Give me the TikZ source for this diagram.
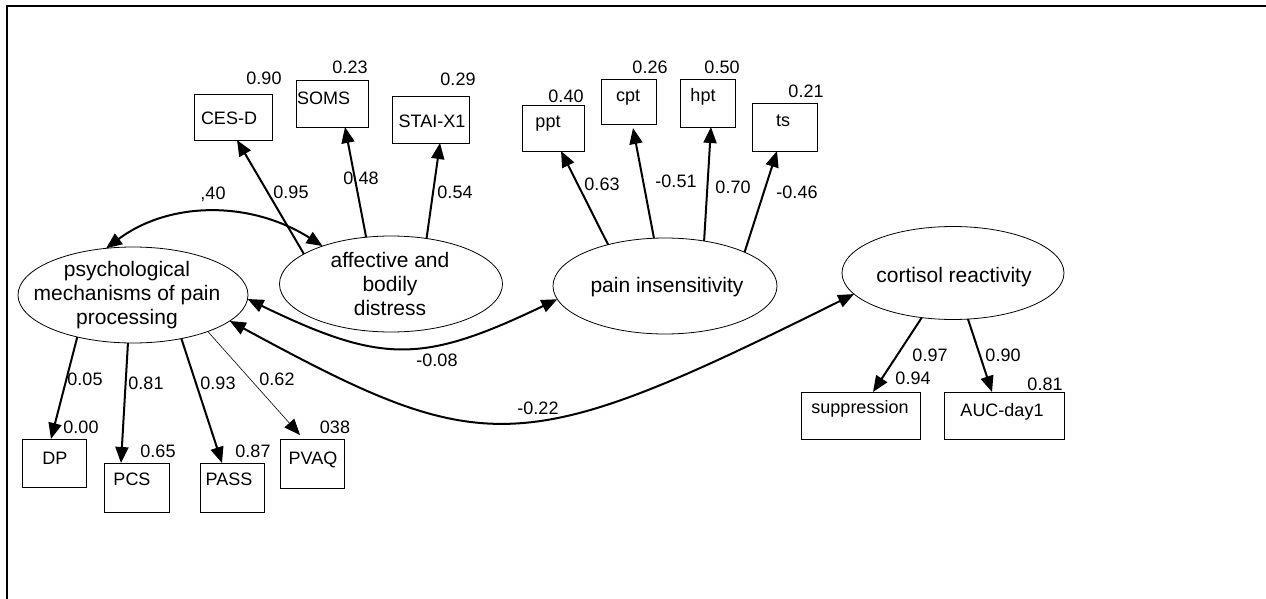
\documentclass[tikz,border=0pt]{standalone}
\usepackage{fontspec}
\setmainfont{Liberation Sans}
\usetikzlibrary{arrows.meta,shapes.geometric}
\begin{document}
\begin{tikzpicture}[x=1pt,y=-1pt,
  lat/.style={ellipse,draw,line width=0.8pt,inner sep=0pt,outer sep=0pt},
  ltxt/.style={inner sep=0pt,align=center,font=\fontsize{21}{24}\selectfont},
  obs/.style={rectangle,draw,line width=0.9pt,inner sep=0pt,outer sep=0pt},
  lbl/.style={inner sep=0pt,font=\fontsize{18}{21}\selectfont,text height=13pt,text depth=0pt},
  tipA/.tip={Triangle[length=16pt,width=13pt]},
  load/.style={line width=2pt,-tipA},
  thinload/.style={line width=0.6pt,-tipA},
  cov/.style={line width=2pt,tipA-tipA}]
\useasboundingbox (0,0) rectangle (1266,599);
\fill[white] (0,0) rectangle (1266,599);
% frame
\draw[line width=2pt] (6.5,599) -- (6.5,6) -- (1266,6);

% latent variables
\node[lat,minimum width=230pt,minimum height=96pt] (psy) at (133,295) {};
\node[ltxt] (psy-t) at (127,295) {psychological\\mechanisms of pain\\processing};
\node[lat,minimum width=223pt,minimum height=96pt] (aff) at (391,284) {};
\node[ltxt] (aff-t) at (390,284) {affective and\\bodily\\distress};
\node[lat,minimum width=224pt,minimum height=96pt] (pain) at (665,286) {};
\node[ltxt,anchor=base] (pain-t) at (667,292) {pain insensitivity};
\node[lat,minimum width=222pt,minimum height=93pt] (cort) at (953,273) {};
\node[ltxt,anchor=base] (cort-t) at (954,282) {cortisol reactivity};

% observed variables
\node[obs,minimum width=78pt,minimum height=46pt] (cesd) at (233,117) {};
\node[lbl] (cesd-t) at (229,118) {CES-D};
\node[obs,minimum width=72pt,minimum height=47pt] (soms) at (332,103.5) {};
\node[lbl] (soms-t) at (323.5,98) {SOMS};
\node[obs,minimum width=77pt,minimum height=47pt] (stai) at (430.5,119.5) {};
\node[lbl] (stai-t) at (432,121) {STAI-X1};
\node[obs,minimum width=62pt,minimum height=46pt] (ppt) at (553,128) {};
\node[lbl] (ppt-t) at (548,121) {ppt};
\node[obs,minimum width=55pt,minimum height=45pt] (cpt) at (628.5,101.5) {};
\node[lbl] (cpt-t) at (628,95.5) {cpt};
\node[obs,minimum width=55pt,minimum height=48pt] (hpt) at (707.5,103) {};
\node[lbl] (hpt-t) at (703,95.5) {hpt};
\node[obs,minimum width=65pt,minimum height=48pt] (ts) at (784.5,127) {};
\node[lbl] (ts-t) at (783,120.5) {ts};
\node[obs,minimum width=64pt,minimum height=48pt] (dp) at (54,463) {};
\node[lbl] (dp-t) at (55,458) {DP};
\node[obs,minimum width=65pt,minimum height=49pt] (pcs) at (136.5,487.5) {};
\node[lbl] (pcs-t) at (132,479) {PCS};
\node[obs,minimum width=64pt,minimum height=49pt] (pass) at (232,487.5) {};
\node[lbl] (pass-t) at (229,479) {PASS};
\node[obs,minimum width=64pt,minimum height=49pt] (pvaq) at (312,463.5) {};
\node[lbl] (pvaq-t) at (313,458) {PVAQ};
\node[obs,minimum width=119pt,minimum height=47pt] (supp) at (860.5,415.5) {};
\node[lbl] (supp-t) at (860,406.5) {suppression};
\node[obs,minimum width=120pt,minimum height=47pt] (auc) at (1004,415.5) {};
\node[lbl] (auc-t) at (1002,410) {AUC-day1};

% loadings
\draw[load] (aff.161) -- ([xshift=4pt]cesd.south);
\draw[load] (aff.118) -- ([xshift=13pt]soms.south);
\draw[load] (aff.52) -- ([xshift=9.5pt]stai.south);
\draw[load] (pain.144) -- ([xshift=8pt]ppt.south);
\draw[load] (pain.103) -- ([xshift=4.5pt,yshift=-4pt]cpt.south);
\draw[load] (pain.49) -- ([xshift=3.5pt]hpt.south);
\draw[load] (pain.23) -- ([xshift=-7.5pt]ts.south);
\draw[load] (psy.217.5) -- ([xshift=-3pt]dp.north);
\draw[load] (psy.264) -- ([xshift=-15.5pt]pcs.north);
\draw[load] (psy.318) -- ([xshift=-10pt]pass.north);
\draw[thinload] (psy.334.6) -- ([xshift=-12pt,yshift=4pt]pvaq.north);
\draw[load] (cort.235) -- ([xshift=12.5pt]supp.north);
\draw[load] (cort.288) -- ([xshift=-12pt]auc.north);

% covariances
\draw[cov] (psy.120) .. controls (170,200.7) and (251,200.7) .. (aff.151.6);
\draw[cov] (psy.358) .. controls (382,364) and (422,364) .. (pain.187.6);
\draw[cov] (psy.345) .. controls (486,460) and (520,460) .. (cort.192.4);

% numbers
\node[lbl] (n1) at (264,78) {0.90};
\node[lbl] (n2) at (350,67) {0.23};
\node[lbl] (n3) at (458,79) {0.29};
\node[lbl] (n4) at (213,193) {,40};
\node[lbl] (n5) at (291,192) {0.95};
\node[lbl] (n6) at (361,178) {0.48};
\node[lbl] (n7) at (455,192) {0.54};
\node[lbl] (n8) at (566,96) {0.40};
\node[lbl] (n9) at (650,67) {0.26};
\node[lbl] (n10) at (722,67) {0.50};
\node[lbl] (n11) at (806,91) {0.21};
\node[lbl] (n12) at (602,184) {0.63};
\node[lbl] (n13) at (676,181) {-0.51};
\node[lbl] (n14) at (733,187) {0.70};
\node[lbl] (n15) at (797,192) {-0.46};
\node[lbl] (n16) at (85,379) {0.05};
\node[lbl] (n17) at (146,383) {0.81};
\node[lbl] (n18) at (218,383) {0.93};
\node[lbl] (n19) at (277,379) {0.62};
\node[lbl] (n20) at (81,427) {0.00};
\node[lbl] (n21) at (158,451) {0.65};
\node[lbl] (n22) at (253,451) {0.87};
\node[lbl] (n23) at (335,427) {038};
\node[lbl] (n24) at (437,360) {-0.08};
\node[lbl] (n25) at (538,408) {-0.22};
\node[lbl] (n26) at (930,355) {0.97};
\node[lbl] (n27) at (1003,355) {0.90};
\node[lbl] (n28) at (913,378) {0.94};
\node[lbl] (n29) at (1045,384) {0.81};
\end{tikzpicture}
\end{document}
